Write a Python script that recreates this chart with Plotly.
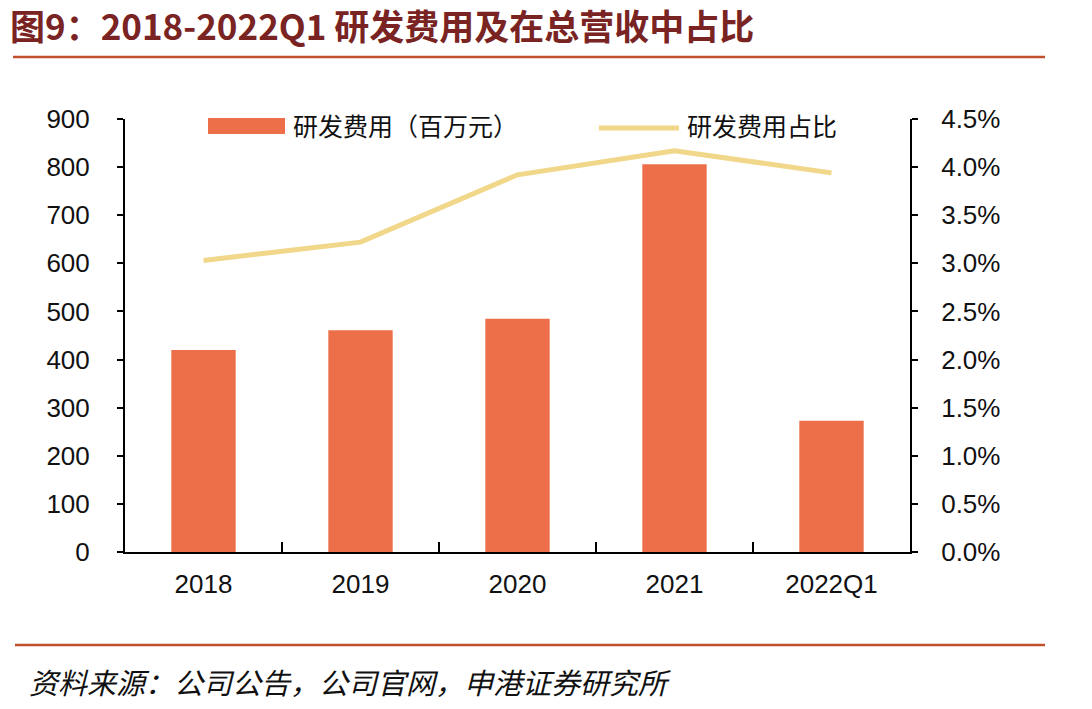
import plotly.graph_objects as go

categories = ["2018", "2019", "2020", "2021", "2022Q1"]
rd_expense = [420, 461, 485, 806, 273]          # 百万元
rd_ratio = [0.0303, 0.0322, 0.0392, 0.0417, 0.0394]

left_ticks = list(range(0, 901, 100))
right_ticks = [i * 0.005 for i in range(10)]

series_names = ["研发费用（百万元）", "研发费用占比"]

BAR = "#EC6F4A"
LINE = "#F0D789"
TITLE_C = "#7A2323"
RULE_C = "#C0502E"
NUM_FONT = "Liberation Sans, Arial, sans-serif"
CJK_FONT = "Noto Sans CJK SC, sans-serif"

L, R, T, B = 125, 182, 119, 157
W, H = 1092, 709
pw = W - L - R
ph = H - T - B


def px_x(px):
    return (px - L) / pw


def px_y(py):
    return (H - B - py) / ph


fig = go.Figure()
fig.add_trace(go.Bar(
    x=categories, y=rd_expense, name=series_names[0],
    marker=dict(color=BAR, line=dict(width=0)), width=0.41, yaxis="y", showlegend=False,
))
fig.add_trace(go.Scatter(
    x=categories, y=rd_ratio, name=series_names[1], mode="lines",
    line=dict(color=LINE, width=5), yaxis="y2", showlegend=False,
))

fig.update_layout(
    width=W, height=H,
    margin=dict(l=L, r=R, t=T, b=B),
    paper_bgcolor="white", plot_bgcolor="white",
    showlegend=False,
    xaxis=dict(type="category", showline=True, linecolor="black", linewidth=2,
               ticks="inside", tickson="boundaries", ticklen=10, tickcolor="black", tickwidth=1.5,
               tickfont=dict(family=NUM_FONT, size=26, color="#111"), ticklabelstandoff=8,
               showgrid=False, zeroline=False),
    yaxis=dict(range=[0, 900], tickvals=left_ticks, showline=True, linecolor="black", linewidth=2,
               ticks="outside", ticklen=6, tickcolor="black", tickwidth=1.5,
               tickfont=dict(family=NUM_FONT, size=26, color="#111"), ticklabelstandoff=22,
               showgrid=False, zeroline=False),
    yaxis2=dict(range=[0, 0.045], tickvals=right_ticks, tickformat=".1%", overlaying="y", side="right",
                showline=True, linecolor="black", linewidth=2,
                ticks="outside", ticklen=6, tickcolor="black", tickwidth=1.5,
                tickfont=dict(family=NUM_FONT, size=26, color="#111"), ticklabelstandoff=18,
                showgrid=False, zeroline=False),
)

# legend drawn manually (wide rectangle / line keys as in the reference)
fig.add_shape(type="rect", xref="paper", yref="paper",
              x0=px_x(208), x1=px_x(285), y0=px_y(134), y1=px_y(118),
              fillcolor=BAR, line=dict(width=0))
fig.add_annotation(text=series_names[0], xref="paper", yref="paper",
                   x=px_x(291), y=px_y(125), xanchor="left", yanchor="middle", showarrow=False,
                   font=dict(family=CJK_FONT, size=25, color="#111"))
fig.add_shape(type="line", xref="paper", yref="paper",
              x0=px_x(599), x1=px_x(679), y0=px_y(128), y1=px_y(128),
              line=dict(color=LINE, width=5))
fig.add_annotation(text=series_names[1], xref="paper", yref="paper",
                   x=px_x(685), y=px_y(125), xanchor="left", yanchor="middle", showarrow=False,
                   font=dict(family=CJK_FONT, size=25, color="#111"))

# rules
fig.add_shape(type="line", xref="paper", yref="paper",
              x0=px_x(13), x1=px_x(1045), y0=px_y(57), y1=px_y(57),
              line=dict(color=RULE_C, width=2.5))
fig.add_shape(type="line", xref="paper", yref="paper",
              x0=px_x(15), x1=px_x(1045), y0=px_y(645), y1=px_y(645),
              line=dict(color=RULE_C, width=2.5))

# title and source
fig.add_annotation(
    text="<b>图9：2018-2022Q1 研发费用及在总营收中占比</b>",
    xref="paper", yref="paper", x=px_x(8), y=px_y(24),
    xanchor="left", yanchor="middle", showarrow=False,
    font=dict(family=CJK_FONT, size=35, color=TITLE_C),
)
fig.add_annotation(
    text="<i>资料来源：公司公告，公司官网，申港证券研究所</i>",
    xref="paper", yref="paper", x=px_x(27), y=px_y(681),
    xanchor="left", yanchor="middle", showarrow=False,
    font=dict(family=CJK_FONT, size=29, color="#111"),
)

fig.write_html("out.html")
